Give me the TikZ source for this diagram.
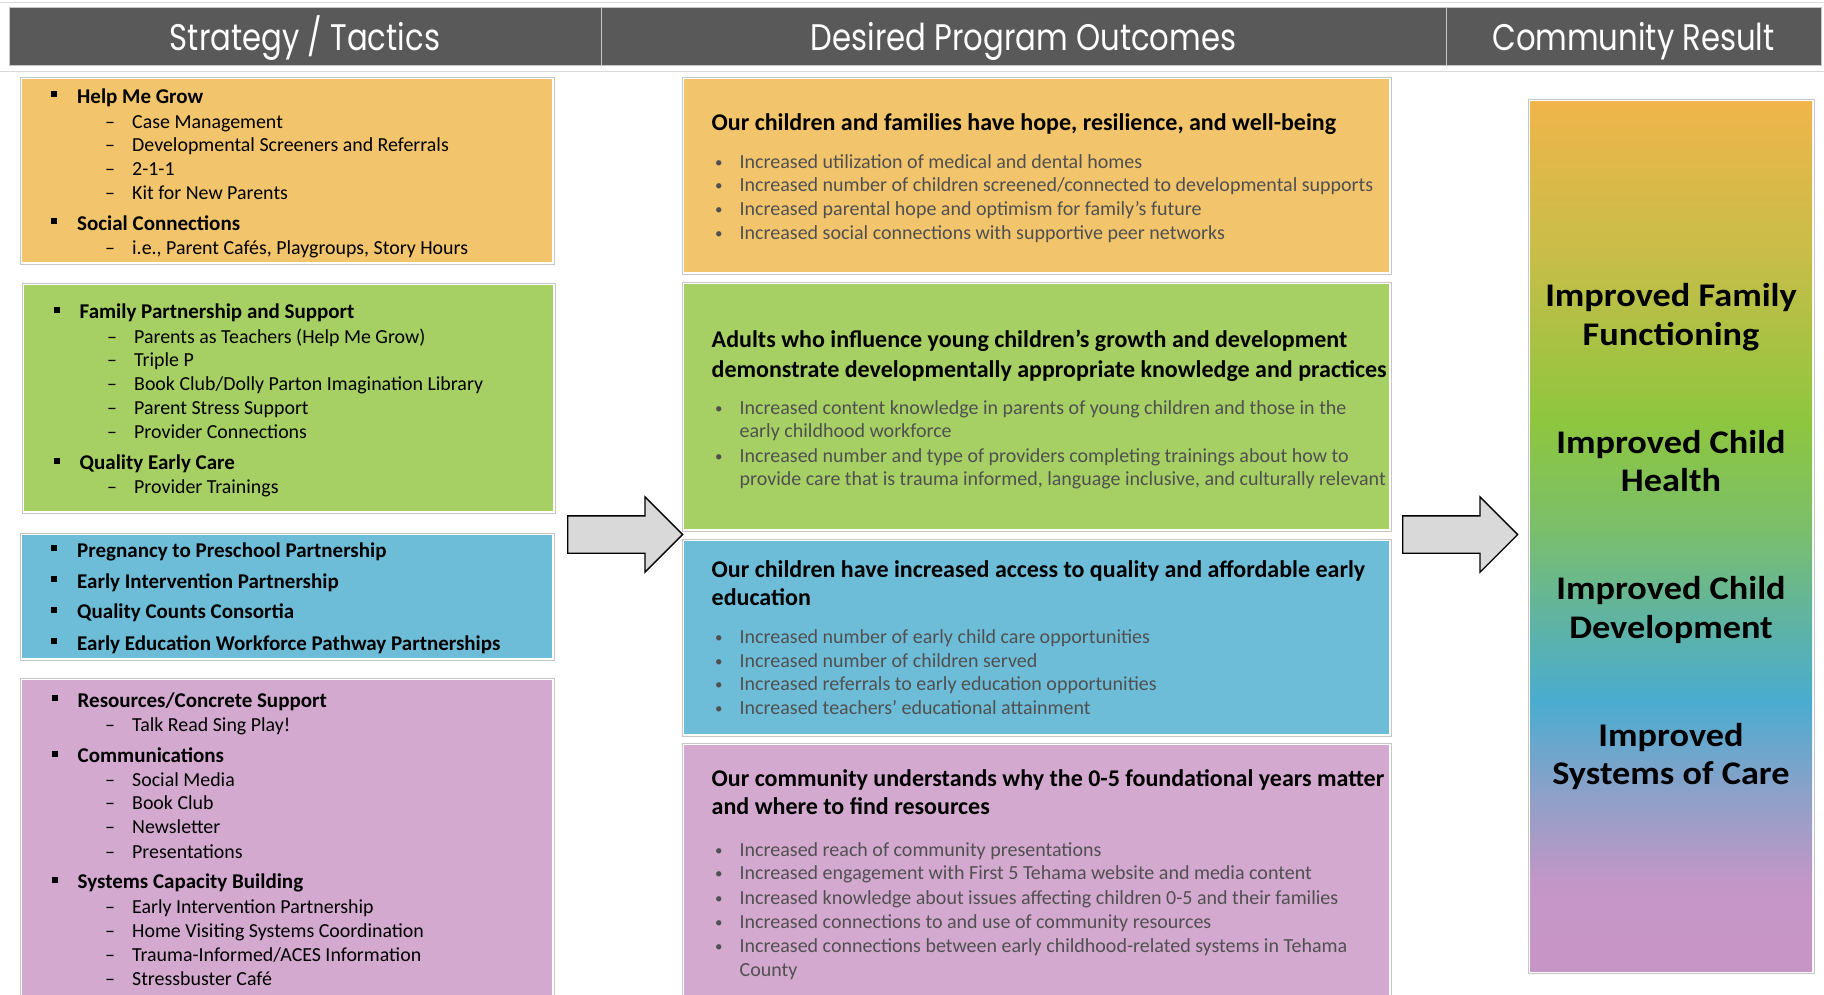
\documentclass[tikz,border=0pt]{standalone}
\usepackage{fontspec}
\setmainfont{Carlito}
\newfontfamily\headfont[FakeStretch=0.83]{Poppins}
\newfontfamily\resfont[FakeStretch=1.1]{Carlito}
\usetikzlibrary{shapes.arrows}
\definecolor{hdr}{HTML}{595959}
\definecolor{rulec}{HTML}{D9D9D9}
\definecolor{bord}{HTML}{C6C6C6}
\definecolor{cOr}{HTML}{F2C46C}
\definecolor{cGr}{HTML}{A6D064}
\definecolor{cBl}{HTML}{6EBDD8}
\definecolor{cPu}{HTML}{D3A9D0}
\definecolor{gtxt}{HTML}{505050}
\definecolor{arrfill}{HTML}{D9D9D9}
\definecolor{gA}{HTML}{F0B54B}
\definecolor{gB}{HTML}{C9BD48}
\definecolor{gC}{HTML}{8DC63F}
\definecolor{gD}{HTML}{7BBF6A}
\definecolor{gE}{HTML}{63B59A}
\definecolor{gF}{HTML}{4AACD0}
\definecolor{gG}{HTML}{8FA0C8}
\definecolor{gH}{HTML}{C496C7}
\definecolor{gI}{HTML}{C896C6}
\pgfdeclareverticalshading{rainbow}{100bp}{color(0bp)=(gI); color(25bp)=(gI); color(30bp)=(gH); color(35bp)=(gG); color(40.5bp)=(gF); color(46bp)=(gE); color(50.5bp)=(gD); color(56.5bp)=(gC); color(66.5bp)=(gB); color(75bp)=(gA); color(100bp)=(gA)}
\tikzset{
  box/.style={draw=bord, line width=0.8pt, fill=#1, inner sep=0pt, anchor=north west,
    path picture={\draw[white,line width=4pt] (path picture bounding box.north west) rectangle (path picture bounding box.south east);}},
  hcell/.style={fill=hdr, draw=bord, line width=0.6pt, inner sep=0pt, anchor=north west, minimum height=58pt},
  htext/.style={anchor=base, inner sep=0pt, text=white, font=\headfont\fontsize{37}{40}\selectfont},
  lbold/.style={anchor=base west, inner sep=0pt, yshift=-7pt, font=\fontsize{21}{25}\selectfont\bfseries},
  lsub/.style={anchor=base west, inner sep=0pt, yshift=-6.5pt, font=\fontsize{19.9}{23}\selectfont},
  mhead/.style={anchor=base west, inner sep=0pt, yshift=-7.8pt, font=\fontsize{24}{28}\selectfont\bfseries},
  mbul/.style={anchor=base west, inner sep=0pt, yshift=-6.6pt, text=gtxt, font=\fontsize{20}{23}\selectfont},
  rtext/.style={anchor=base, inner sep=0pt, font=\resfont\bfseries\fontsize{33}{38}\selectfont},
  bigarrow/.style={shape=single arrow, draw=black, line width=1.3pt, fill=arrfill, minimum height=115pt,
    inner xsep=0pt, inner ysep=18pt, single arrow head extend=19pt, single arrow head indent=0pt, anchor=tail}
}
\newcommand\LBold[4]{\node[lbold] (#1) at (#2,#3) {\makebox[26pt][l]{\rule[6pt]{6pt}{6pt}}#4};}
\newcommand\LSub[4]{\node[lsub] (#1) at (#2,#3) {\makebox[27pt][l]{–}#4};}
\newcommand\MHead[3]{\node[mhead] (#1) at (711.5,#2) {#3};}
\newcommand\MBul[3]{\node[mbul] (#1) at (715,#2) {\makebox[24.5pt][l]{\raisebox{1.2pt}{\fontsize{15}{15}\selectfont •}}#3};}
\newcommand\MCont[3]{\node[mbul] (#1) at (739.5,#2) {#3};}
\newcommand\RText[3]{\node[rtext] (#1) at (1671,#2) {#3};}
\begin{document}
\begin{tikzpicture}[x=1pt,y=-1pt]
\useasboundingbox (0,0) rectangle (1824,994);
\clip (0,0) rectangle (1824,994);
\fill[white] (0,0) rectangle (1824,994);
% header
\draw[rulec, line width=1pt] (0,2.5) -- (1824,2.5);
\draw[rulec, line width=1pt] (0,71) -- (1824,71);
\node[hcell, minimum width=592pt] (h1) at (9,7) {};
\node[hcell, minimum width=845pt] (h2) at (601,7) {};
\node[hcell, minimum width=375pt] (h3) at (1446,7) {};
\node[htext] (t1) at (305,50.5) {Strategy / Tactics};
\node[htext] (t2) at (1023.5,50.5) {Desired Program Outcomes};
\node[htext] (t3) at (1633.5,50.5) {Community Result};
% left boxes
\node[box=cOr, minimum width=534pt, minimum height=187pt] (lb1) at (20,77) {};
\node[box=cGr, minimum width=533pt, minimum height=230pt] (lb2) at (22,283) {};
\node[box=cBl, minimum width=534pt, minimum height=127pt] (lb3) at (20,533) {};
\node[box=cPu, minimum width=534pt, minimum height=330pt] (lb4) at (20,678) {};
% middle boxes
\node[box=cOr, minimum width=709pt, minimum height=197pt] (mb1) at (682,77) {};
\node[box=cGr, minimum width=709pt, minimum height=249pt] (mb2) at (682,282) {};
\node[box=cBl, minimum width=709pt, minimum height=197pt] (mb3) at (682,539) {};
\node[box=cPu, minimum width=709pt, minimum height=270pt] (mb4) at (682,743) {};
% right box
\node[draw=bord, line width=0.8pt, inner sep=0pt, anchor=north west, minimum width=286pt, minimum height=874pt] (rbo) at (1528,99) {};
\node[shade, shading=rainbow, inner sep=0pt, anchor=north west, minimum width=282pt, minimum height=870pt] (rb) at (1530,101) {};
% arrows
\node[bigarrow] (ar1) at (567,534.5) {};
\node[bigarrow] (ar2) at (1402,534.5) {};
% left box 1
\LBold{a1}{51}{96}{Help Me Grow}
\LSub{a2}{105}{121.7}{Case Management}
\LSub{a3}{105}{145}{Developmental Screeners and Referrals}
\LSub{a4}{105}{169}{2-1-1}
\LSub{a5}{105}{193.3}{Kit for New Parents}
\LBold{a6}{51}{223.3}{Social Connections}
\LSub{a7}{105}{248.3}{i.e., Parent Cafés, Playgroups, Story Hours}
% left box 2
\LBold{b1}{53.5}{311.7}{Family Partnership and Support}
\LSub{b2}{107}{336.7}{Parents as Teachers (Help Me Grow)}
\LSub{b3}{107}{360}{Triple P}
\LSub{b4}{107}{384.3}{Book Club/Dolly Parton Imagination Library}
\LSub{b5}{107}{407.7}{Parent Stress Support}
\LSub{b6}{107}{432.3}{Provider Connections}
\LBold{b7}{53.5}{462.7}{Quality Early Care}
\LSub{b8}{107}{486.7}{Provider Trainings}
% left box 3
\LBold{c1}{51}{550}{Pregnancy to Preschool Partnership}
\LBold{c2}{51}{581}{Early Intervention Partnership}
\LBold{c3}{51}{611.7}{Quality Counts Consortia}
\LBold{c4}{51}{643.3}{Early Education Workforce Pathway Partnerships}
% left box 4
\LBold{d1}{51.5}{700}{Resources/Concrete Support}
\LSub{d2}{105}{725}{Talk Read Sing Play!}
\LBold{d3}{51.5}{755.7}{Communications}
\LSub{d4}{105}{780}{Social Media}
\LSub{d5}{105}{803.3}{Book Club}
\LSub{d6}{105}{827.3}{Newsletter}
\LSub{d7}{105}{851.7}{Presentations}
\LBold{d8}{51.5}{881.7}{Systems Capacity Building}
\LSub{d9}{105}{907.3}{Early Intervention Partnership}
\LSub{d10}{105}{931}{Home Visiting Systems Coordination}
\LSub{d11}{105}{955}{Trauma-Informed/ACES Information}
\LSub{d12}{105}{979}{Stressbuster Café}
% middle box 1
\MHead{e0}{122.5}{Our children and families have hope, resilience, and well-being}
\MBul{e1}{162.3}{Increased utilization of medical and dental homes}
\MBul{e2}{185}{Increased number of children screened/connected to developmental supports}
\MBul{e3}{209.3}{Increased parental hope and optimism for family’s future}
\MBul{e4}{233.3}{Increased social connections with supportive peer networks}
% middle box 2
\MHead{f0}{340}{Adults who influence young children’s growth and development}
\MHead{f1}{369.3}{demonstrate developmentally appropriate knowledge and practices}
\MBul{f2}{407.7}{Increased content knowledge in parents of young children and those in the}
\MCont{f3}{431}{early childhood workforce}
\MBul{f4}{455.7}{Increased number and type of providers completing trainings about how to}
\MCont{f5}{479}{provide care that is trauma informed, language inclusive, and culturally relevant}
% middle box 3
\MHead{g0}{569.3}{Our children have increased access to quality and affordable early}
\MHead{g1}{597.7}{education}
\MBul{g2}{636.7}{Increased number of early child care opportunities}
\MBul{g3}{660.7}{Increased number of children served}
\MBul{g4}{684}{Increased referrals to early education opportunities}
\MBul{g5}{707.7}{Increased teachers’ educational attainment}
% middle box 4
\MHead{k0}{779}{Our community understands why the 0-5 foundational years matter}
\MHead{k1}{806.7}{and where to find resources}
\MBul{k2}{850}{Increased reach of community presentations}
\MBul{k3}{873.3}{Increased engagement with First 5 Tehama website and media content}
\MBul{k4}{897.7}{Increased knowledge about issues affecting children 0-5 and their families}
\MBul{k5}{921.7}{Increased connections to and use of community resources}
\MBul{k6}{945.7}{Increased connections between early childhood-related systems in Tehama}
\MCont{k7}{970}{County}
% right box text
\RText{r1}{306.5}{Improved Family}
\RText{r2}{345}{Functioning}
\RText{r3}{453}{Improved Child}
\RText{r4}{491.4}{Health}
\RText{r5}{599.6}{Improved Child}
\RText{r6}{638}{Development}
\RText{r7}{746}{Improved}
\RText{r8}{784.6}{Systems of Care}
\end{tikzpicture}
\end{document}
